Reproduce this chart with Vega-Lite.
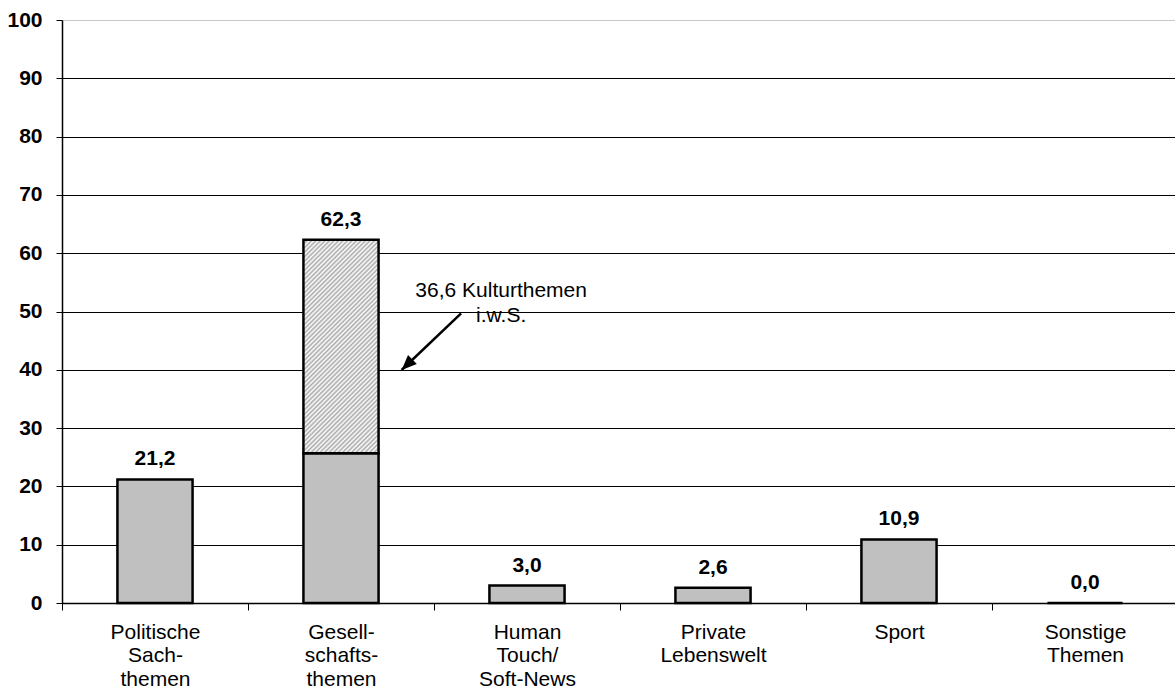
{
  "$schema": "https://vega.github.io/schema/vega-lite/v6.json",
  "width": 1116,
  "height": 583,
  "autosize": "none",
  "padding": {"left": 62, "top": 20, "right": 0, "bottom": 88},
  "background": "white",
  "config": {
    "font": "Liberation Sans",
    "view": {"stroke": null},
    "locale": {"number": {"decimal": ",", "thousands": ".", "grouping": [3], "currency": ["", " €"]}}
  },
  "layer": [
    {
      "data": {
        "values": [
          {"cat": "Politische|Sach-|themen", "base": 21.2, "total": 21.2},
          {"cat": "Gesell-|schafts-|themen", "base": 25.7, "total": 62.3, "kultur": 36.6},
          {"cat": "Human|Touch/|Soft-News", "base": 3.0, "total": 3.0},
          {"cat": "Private|Lebenswelt", "base": 2.6, "total": 2.6},
          {"cat": "Sport", "base": 10.9, "total": 10.9},
          {"cat": "Sonstige|Themen", "base": 0, "total": 0}
        ]
      },
      "encoding": {
        "x": {
          "field": "cat",
          "type": "nominal",
          "sort": null,
          "scale": {"paddingInner": 0, "paddingOuter": 0},
          "axis": {
            "title": null,
            "labelAngle": 0,
            "labelExpr": "split(datum.label, '|')",
            "labelFont": "Liberation Sans",
            "labelFontSize": 21,
            "labelLineHeight": 23.5,
            "labelColor": "#000000",
            "labelPadding": 11,
            "tickBand": "extent",
            "tickSize": 7,
            "tickColor": "#000000",
            "tickWidth": 1,
            "domainColor": "#000000",
            "domainWidth": 1.5,
            "grid": false
          }
        }
      },
      "layer": [
        {
          "mark": {"type": "bar", "width": {"band": 0.404}, "fill": "#c0c0c0", "stroke": "#000000", "strokeWidth": 2.5},
          "encoding": {
            "y": {
              "field": "base",
              "type": "quantitative",
              "scale": {"domain": [0, 100], "nice": false},
              "axis": {
                "title": null,
                "values": [0, 10, 20, 30, 40, 50, 60, 70, 80, 90, 100],
                "labelFont": "Liberation Sans",
                "labelFontSize": 21,
                "labelFontWeight": "bold",
                "labelColor": "#000000",
                "labelPadding": 14,
                "tickSize": 6,
                "tickColor": "#000000",
                "domainColor": "#000000",
                "domainWidth": 1.5,
                "grid": true,
                "gridColor": {"condition": {"test": "datum.value === 100", "value": "#c8c8c8"}, "value": "#000000"},
                "gridWidth": 1,
                "gridOpacity": 1
              }
            }
          }
        },
        {
          "transform": [{"filter": "isValid(datum.kultur)"}],
          "mark": {
            "type": "bar",
            "width": {"band": 0.404},
            "stroke": "#000000",
            "strokeWidth": 2.5,
            "fill": {
              "gradient": "linear",
              "x1": 0, "y1": 0, "x2": 0.4224, "y2": 1.2,
              "stops": [
                {"offset": 0, "color": "#a8a8a8"}, {"offset": 0.0078, "color": "#ffffff"},
                {"offset": 0.0156, "color": "#a8a8a8"}, {"offset": 0.0234, "color": "#ffffff"},
                {"offset": 0.0313, "color": "#a8a8a8"}, {"offset": 0.0391, "color": "#ffffff"},
                {"offset": 0.0469, "color": "#a8a8a8"}, {"offset": 0.0547, "color": "#ffffff"},
                {"offset": 0.0625, "color": "#a8a8a8"}, {"offset": 0.0703, "color": "#ffffff"},
                {"offset": 0.0781, "color": "#a8a8a8"}, {"offset": 0.0859, "color": "#ffffff"},
                {"offset": 0.0938, "color": "#a8a8a8"}, {"offset": 0.1016, "color": "#ffffff"},
                {"offset": 0.1094, "color": "#a8a8a8"}, {"offset": 0.1172, "color": "#ffffff"},
                {"offset": 0.125, "color": "#a8a8a8"}, {"offset": 0.1328, "color": "#ffffff"},
                {"offset": 0.1406, "color": "#a8a8a8"}, {"offset": 0.1484, "color": "#ffffff"},
                {"offset": 0.1563, "color": "#a8a8a8"}, {"offset": 0.1641, "color": "#ffffff"},
                {"offset": 0.1719, "color": "#a8a8a8"}, {"offset": 0.1797, "color": "#ffffff"},
                {"offset": 0.1875, "color": "#a8a8a8"}, {"offset": 0.1953, "color": "#ffffff"},
                {"offset": 0.2031, "color": "#a8a8a8"}, {"offset": 0.2109, "color": "#ffffff"},
                {"offset": 0.2188, "color": "#a8a8a8"}, {"offset": 0.2266, "color": "#ffffff"},
                {"offset": 0.2344, "color": "#a8a8a8"}, {"offset": 0.2422, "color": "#ffffff"},
                {"offset": 0.25, "color": "#a8a8a8"}, {"offset": 0.2578, "color": "#ffffff"},
                {"offset": 0.2656, "color": "#a8a8a8"}, {"offset": 0.2734, "color": "#ffffff"},
                {"offset": 0.2813, "color": "#a8a8a8"}, {"offset": 0.2891, "color": "#ffffff"},
                {"offset": 0.2969, "color": "#a8a8a8"}, {"offset": 0.3047, "color": "#ffffff"},
                {"offset": 0.3125, "color": "#a8a8a8"}, {"offset": 0.3203, "color": "#ffffff"},
                {"offset": 0.3281, "color": "#a8a8a8"}, {"offset": 0.3359, "color": "#ffffff"},
                {"offset": 0.3438, "color": "#a8a8a8"}, {"offset": 0.3516, "color": "#ffffff"},
                {"offset": 0.3594, "color": "#a8a8a8"}, {"offset": 0.3672, "color": "#ffffff"},
                {"offset": 0.375, "color": "#a8a8a8"}, {"offset": 0.3828, "color": "#ffffff"},
                {"offset": 0.3906, "color": "#a8a8a8"}, {"offset": 0.3984, "color": "#ffffff"},
                {"offset": 0.4063, "color": "#a8a8a8"}, {"offset": 0.4141, "color": "#ffffff"},
                {"offset": 0.4219, "color": "#a8a8a8"}, {"offset": 0.4297, "color": "#ffffff"},
                {"offset": 0.4375, "color": "#a8a8a8"}, {"offset": 0.4453, "color": "#ffffff"},
                {"offset": 0.4531, "color": "#a8a8a8"}, {"offset": 0.4609, "color": "#ffffff"},
                {"offset": 0.4688, "color": "#a8a8a8"}, {"offset": 0.4766, "color": "#ffffff"},
                {"offset": 0.4844, "color": "#a8a8a8"}, {"offset": 0.4922, "color": "#ffffff"},
                {"offset": 0.5, "color": "#a8a8a8"}, {"offset": 0.5078, "color": "#ffffff"},
                {"offset": 0.5156, "color": "#a8a8a8"}, {"offset": 0.5234, "color": "#ffffff"},
                {"offset": 0.5313, "color": "#a8a8a8"}, {"offset": 0.5391, "color": "#ffffff"},
                {"offset": 0.5469, "color": "#a8a8a8"}, {"offset": 0.5547, "color": "#ffffff"},
                {"offset": 0.5625, "color": "#a8a8a8"}, {"offset": 0.5703, "color": "#ffffff"},
                {"offset": 0.5781, "color": "#a8a8a8"}, {"offset": 0.5859, "color": "#ffffff"},
                {"offset": 0.5938, "color": "#a8a8a8"}, {"offset": 0.6016, "color": "#ffffff"},
                {"offset": 0.6094, "color": "#a8a8a8"}, {"offset": 0.6172, "color": "#ffffff"},
                {"offset": 0.625, "color": "#a8a8a8"}, {"offset": 0.6328, "color": "#ffffff"},
                {"offset": 0.6406, "color": "#a8a8a8"}, {"offset": 0.6484, "color": "#ffffff"},
                {"offset": 0.6563, "color": "#a8a8a8"}, {"offset": 0.6641, "color": "#ffffff"},
                {"offset": 0.6719, "color": "#a8a8a8"}, {"offset": 0.6797, "color": "#ffffff"},
                {"offset": 0.6875, "color": "#a8a8a8"}, {"offset": 0.6953, "color": "#ffffff"},
                {"offset": 0.7031, "color": "#a8a8a8"}, {"offset": 0.7109, "color": "#ffffff"},
                {"offset": 0.7188, "color": "#a8a8a8"}, {"offset": 0.7266, "color": "#ffffff"},
                {"offset": 0.7344, "color": "#a8a8a8"}, {"offset": 0.7422, "color": "#ffffff"},
                {"offset": 0.75, "color": "#a8a8a8"}, {"offset": 0.7578, "color": "#ffffff"},
                {"offset": 0.7656, "color": "#a8a8a8"}, {"offset": 0.7734, "color": "#ffffff"},
                {"offset": 0.7813, "color": "#a8a8a8"}, {"offset": 0.7891, "color": "#ffffff"},
                {"offset": 0.7969, "color": "#a8a8a8"}, {"offset": 0.8047, "color": "#ffffff"},
                {"offset": 0.8125, "color": "#a8a8a8"}, {"offset": 0.8203, "color": "#ffffff"},
                {"offset": 0.8281, "color": "#a8a8a8"}, {"offset": 0.8359, "color": "#ffffff"},
                {"offset": 0.8438, "color": "#a8a8a8"}, {"offset": 0.8516, "color": "#ffffff"},
                {"offset": 0.8594, "color": "#a8a8a8"}, {"offset": 0.8672, "color": "#ffffff"},
                {"offset": 0.875, "color": "#a8a8a8"}, {"offset": 0.8828, "color": "#ffffff"},
                {"offset": 0.8906, "color": "#a8a8a8"}, {"offset": 0.8984, "color": "#ffffff"},
                {"offset": 0.9063, "color": "#a8a8a8"}, {"offset": 0.9141, "color": "#ffffff"},
                {"offset": 0.9219, "color": "#a8a8a8"}, {"offset": 0.9297, "color": "#ffffff"},
                {"offset": 0.9375, "color": "#a8a8a8"}, {"offset": 0.9453, "color": "#ffffff"},
                {"offset": 0.9531, "color": "#a8a8a8"}, {"offset": 0.9609, "color": "#ffffff"},
                {"offset": 0.9688, "color": "#a8a8a8"}, {"offset": 0.9766, "color": "#ffffff"},
                {"offset": 0.9844, "color": "#a8a8a8"}, {"offset": 0.9922, "color": "#ffffff"},
                {"offset": 1, "color": "#a8a8a8"}
              ]
            }
          },
          "encoding": {
            "y": {"field": "base", "type": "quantitative"},
            "y2": {"field": "total"}
          }
        },
        {
          "mark": {"type": "text", "font": "Liberation Sans", "fontSize": 21, "fontWeight": "bold", "color": "#000000", "align": "center", "baseline": "alphabetic", "dy": -14},
          "encoding": {
            "y": {"field": "total", "type": "quantitative"},
            "text": {"field": "total", "type": "quantitative", "format": ".1f"}
          }
        }
      ]
    },
    {
      "data": {
        "values": [
          {"kind": "arrow", "px": 2.1456, "py": 49.69, "qx": 1.826, "qy": 39.97},
          {"kind": "label", "px": 2.361, "py": 52.5, "label": ["36,6 Kulturthemen", "i.w.S."]}
        ]
      },
      "encoding": {
        "x": {"field": "px", "type": "quantitative", "scale": {"domain": [0, 6], "nice": false, "zero": false}, "axis": null},
        "y": {"field": "py", "type": "quantitative", "axis": null}
      },
      "layer": [
        {
          "transform": [{"filter": "datum.kind === 'arrow'"}],
          "mark": {"type": "rule", "color": "#000000", "strokeWidth": 2.5},
          "encoding": {
            "x2": {"field": "qx"},
            "y2": {"field": "qy"}
          }
        },
        {
          "transform": [{"filter": "datum.kind === 'arrow'"}],
          "mark": {"type": "point", "shape": "M0,0 L-0.42,1 L0.42,1 Z", "filled": true, "color": "#000000", "opacity": 1, "size": 900, "angle": 226},
          "encoding": {
            "x": {"field": "qx", "type": "quantitative"},
            "y": {"field": "qy", "type": "quantitative"}
          }
        },
        {
          "transform": [{"filter": "datum.kind === 'label'"}],
          "mark": {"type": "text", "font": "Liberation Sans", "fontSize": 21, "color": "#000000", "align": "center", "baseline": "alphabetic", "lineHeight": 25},
          "encoding": {
            "text": {"field": "label"}
          }
        }
      ]
    }
  ],
  "resolve": {"scale": {"x": "independent"}, "axis": {"y": "independent"}}
}
